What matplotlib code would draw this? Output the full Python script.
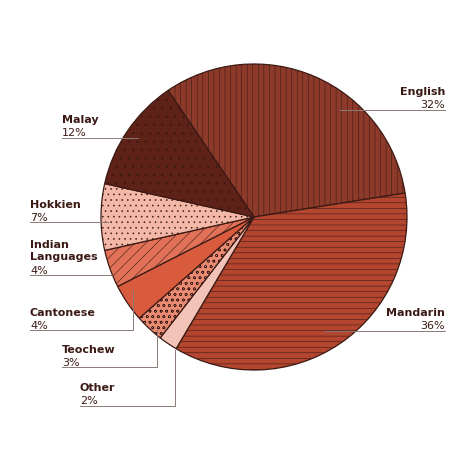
import matplotlib.pyplot as plt

labels = ['English', 'Mandarin', 'Other', 'Teochew', 'Cantonese',
          'Indian\nLanguages', 'Hokkien', 'Malay']
shares = [32, 36, 2, 3, 4, 4, 7, 12]
colors = ['#8e3a2b', '#b4452f', '#f4c3b8', '#e98a72', '#d95b3e',
          '#e27257', '#f3b8a8', '#5e2219']
hatches = ['|||', '---', '', 'ooo', '', '///', '...', '..']

EDGE = '#3b1a14'
TXT = '#3b1a14'
H = 474

plt.rcParams['hatch.linewidth'] = 0.4
fig = plt.figure(figsize=(4.74, 4.74), dpi=100)
ax = fig.add_axes([0, 0, 1, 1])

wedges, _ = ax.pie(shares, colors=colors, startangle=124.2, counterclock=False,
                   center=(254, H - 217), radius=153,
                   wedgeprops=dict(edgecolor=EDGE, linewidth=0.9))
for w, h in zip(wedges, hatches):
    w.set_hatch(h)
    w.set_edgecolor(EDGE)
ax.set_xlim(0, 474)
ax.set_ylim(0, H)
ax.set_aspect('auto')
ax.axis('off')

# label positions in pixel coords from top: (x, y of name, align, leader path)
layout = {
    'English': (445, 87, 'right', [(340, 110), (445, 110)]),
    'Mandarin': (445, 308, 'right', [(325, 331), (445, 331)]),
    'Malay': (62, 115, 'left', [(62, 138), (138, 138)]),
    'Hokkien': (30, 200, 'left', [(30, 222), (108, 222)]),
    'Indian\nLanguages': (30, 240, 'left', [(30, 275), (112, 275)]),
    'Cantonese': (30, 308, 'left', [(30, 330), (133, 330), (133, 290)]),
    'Teochew': (62, 345, 'left', [(62, 367), (157, 367), (157, 330)]),
    'Other': (80, 383, 'left', [(80, 406), (175, 406), (175, 350)]),
}
for lab, pct in zip(labels, shares):
    x, y, ha, path = layout[lab]
    ax.text(x, H - y, lab, ha=ha, va='top', fontsize=8, fontweight='bold',
            color=TXT, linespacing=1.3)
    nlines = lab.count('\n') + 1
    ax.text(x, H - (y + 13 * nlines), f'{pct}%', ha=ha, va='top', fontsize=8, color=TXT)
    xs, ys = zip(*path)
    ax.plot(xs, [H - v for v in ys], color='#8a7a75', lw=0.7)

fig.savefig('out.png', dpi=100)
